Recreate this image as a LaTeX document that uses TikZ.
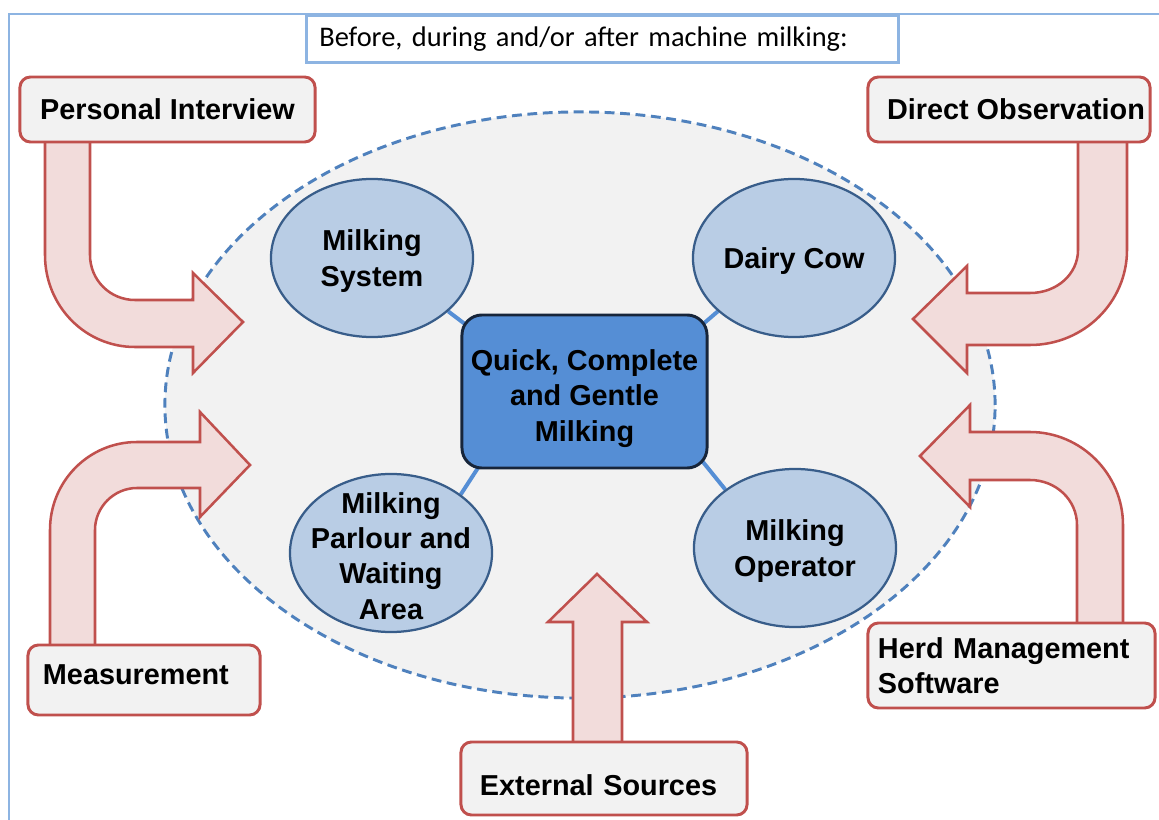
\documentclass[tikz,border=0pt]{standalone}
\usepackage{fontspec}
\setmainfont{Liberation Sans}
\newfontfamily\calibri{Carlito}
\usetikzlibrary{shapes.geometric,calc}
\definecolor{frameblue}{RGB}{141,180,226}
\definecolor{boxred}{RGB}{192,80,77}
\definecolor{arrowpink}{RGB}{242,220,219}
\definecolor{paper}{RGB}{242,242,242}
\definecolor{dashblue}{RGB}{79,129,189}
\definecolor{topicfill}{RGB}{185,205,229}
\definecolor{topicline}{RGB}{56,93,138}
\definecolor{goalfill}{RGB}{85,142,213}
\definecolor{goalline}{RGB}{23,37,58}
\pgfdeclarelayer{bg}
\pgfdeclarelayer{links}
\pgfsetlayers{bg,links,main}
\newcommand{\boldtext}{\bfseries\fontsize{20.5}{25}\selectfont}

\begin{document}
\begin{tikzpicture}[x=0.025cm, y=-0.025cm,
        frame/.style={draw=frameblue, line width=2.1pt},
        source/.style={draw=boxred, fill=paper, line width=2.1pt, rounded corners=0.26cm, font=\boldtext},
        topic/.style={ellipse, draw=topicline, fill=topicfill, line width=1.6pt, minimum width=5.05cm, minimum height=3.95cm, inner sep=0pt},
        txt/.style={font=\boldtext, align=center, yshift=-0.075cm},
        goalbox/.style={draw=goalline, fill=goalfill, line width=2.1pt, rounded corners=0.5cm, minimum width=6.125cm, minimum height=3.825cm},
        bigarrow/.style={draw=boxred, fill=arrowpink, line width=1.8pt},
        link/.style={draw=goalfill, line width=2.8pt}
    ]
        \useasboundingbox (0,0) rectangle (1159,820);

        % Frame and heading
        \draw[frame] (9,820) -- (9,14) -- (1159,14);
        \node[draw=frameblue, line width=1.9pt, fill=white, anchor=north west, minimum height=1.175cm, text width=14.15cm, inner xsep=0.325cm, align=left, font=\calibri\fontsize{20.2}{24}\selectfont] (title) at (305,14) {Before, during and/or after machine milking:};

        % Field of study
        \begin{pgfonlayer}{bg}
        \node[ellipse, draw=dashblue, fill=paper, dash pattern=on 7pt off 4pt, line width=2.1pt, minimum width=20.75cm, minimum height=14.65cm] (field) at (580,405) {};
        \end{pgfonlayer}

        % Block arrows
        \draw[bigarrow] (45,130) -- (45,255) .. controls (45,306) and (85,347) .. (135,347) -- (193,347) -- (193,373) -- (243,322) -- (193,273) -- (193,300) -- (135,300) .. controls (110,300) and (90,280) .. (90,255) -- (90,130) -- cycle;
        \draw[bigarrow] (1127,130) -- (1127,250) .. controls (1127,302) and (1084,345) .. (1030,345) -- (967,345) -- (967,373) -- (913,319) -- (967,266) -- (967,293) -- (1030,293) .. controls (1057,293) and (1078,274) .. (1078,250) -- (1078,130) -- cycle;
        \draw[bigarrow] (50,660) -- (50,530) .. controls (50,481) and (89,442) .. (137,442) -- (200,442) -- (200,412) -- (250,465) -- (200,517) -- (200,488) -- (137,488) .. controls (114,488) and (95,507) .. (95,530) -- (95,660) -- cycle;
        \draw[bigarrow] (1123,640) -- (1123,525) .. controls (1123,474) and (1081,432) .. (1030,432) -- (970,432) -- (970,405) -- (920,456) -- (970,507) -- (970,480) -- (1030,480) .. controls (1056,480) and (1077,500) .. (1077,525) -- (1077,640) -- cycle;
        \draw[bigarrow] (573,760) -- (573,622) -- (548,622) -- (597,574) -- (647,622) -- (622,622) -- (622,760) -- cycle;

        % Topics
        \node[topic, label={[txt]center:Milking\\System}] (system) at (372,258) {};
        \node[topic, label={[txt]center:Dairy Cow}] (cow) at (794,258) {};
        \node[topic, label={[txt]center:Milking\\Parlour and\\Waiting\\Area}] (parlour) at (391,553) {};
        \node[topic, label={[txt]center:Milking\\Operator}] (operator) at (795,548) {};
        \node[goalbox, label={[txt, yshift=-0.1cm]center:{Quick, Complete\\and Gentle\\Milking}}] (goal) at (584.5,391.5) {};

        % Links
        \begin{pgfonlayer}{links}
        \draw[link] (system.-35) -- ($(goal.north west)+(13,17)$);
        \draw[link] (cow.215) -- ($(goal.north east)+(-13,17)$);
        \draw[link] (parlour.40) -- ($(goal.south west)+(21,-7)$);
        \draw[link] (operator.140) -- ($(goal.south east)+(-10,-13)$);
        \end{pgfonlayer}

        % Sources
        \node[source, minimum width=7.375cm, minimum height=1.625cm] (interview) at (167.5,109.5) {Personal Interview};
        \node[source, minimum width=7.05cm, minimum height=1.625cm, inner xsep=0.1cm] (observation) at (1009,109.5) {\hspace{0.35cm}Direct Observation};
        \node[source, text width=5.05cm, inner xsep=0.375cm, minimum height=1.75cm, align=left] (measure) at (144,680) {\raisebox{0.125cm}[\height][\depth]{Measurement}};
        \node[source, text width=6.675cm, inner xsep=0.25cm, minimum height=2.125cm, align=left] (herd) at (1011.5,665.5) {Herd Management\\Software};
        \node[source, text width=6.2cm, inner xsep=0.475cm, minimum height=1.825cm, align=left] (external) at (604,778.5) {\raisebox{-0.175cm}[\height][\depth]{External Sources}};
    \end{tikzpicture}
\end{document}
